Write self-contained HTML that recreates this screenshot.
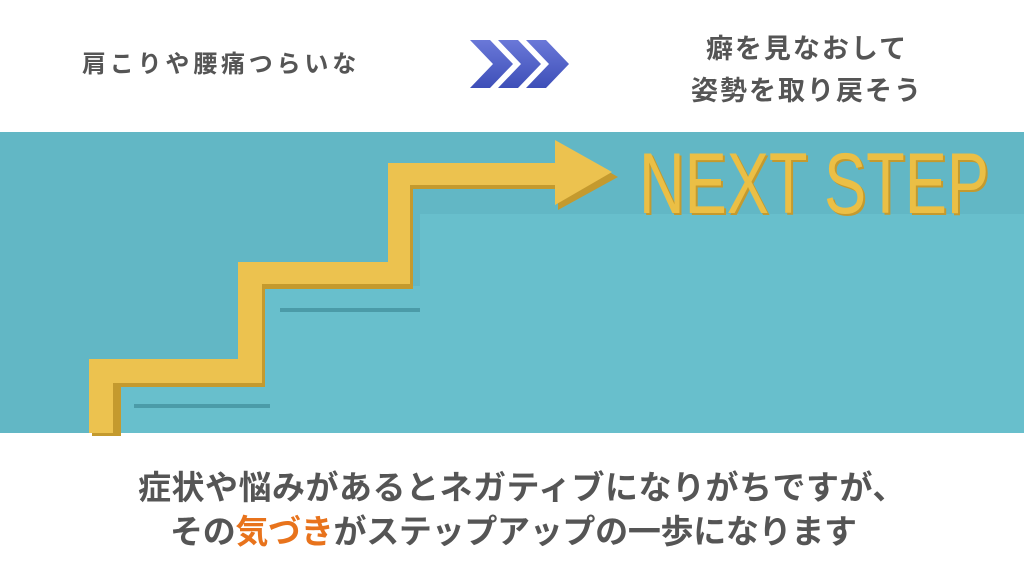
<!DOCTYPE html>
<html><head><meta charset="utf-8"><style>
body{margin:0;width:1024px;height:576px;background:#fff;position:relative;overflow:hidden;font-family:"Liberation Sans","Noto Sans CJK JP",sans-serif;color:#555;font-weight:bold}
.t{position:absolute;white-space:nowrap}
</style></head><body>
<div class="t" style="left:82px;top:44px;font-size:24px;letter-spacing:3.8px">肩こりや腰痛つらいな</div>
<div class="t" style="left:680px;top:28px;width:254px;text-align:center;font-size:27px;letter-spacing:2px;line-height:42px">癖を見なおして<br>姿勢を取り戻そう</div>
<svg style="position:absolute;left:0;top:0" width="1024" height="576">
<defs><linearGradient id="ch" x1="0" y1="0" x2="0" y2="1"><stop offset="0" stop-color="#6a78d8"/><stop offset="1" stop-color="#3e4fb8"/></linearGradient></defs>
<g fill="url(#ch)">
<polygon points="470,40 490,40 513,64 490,88 470,88 493,64"/>
<polygon points="498,40 518,40 541,64 518,88 498,88 521,64"/>
<polygon points="526,40 546,40 569,64 546,88 526,88 549,64"/>
</g>
<rect x="0" y="132" width="1024" height="301" fill="#62b7c5"/>
<polygon points="420,214 1024,214 1024,433 0,433 0,433 120,433 120,384 262,384 262,286 420,286" fill="#68bfcc"/>
<rect x="134" y="404" width="136" height="4" fill="#3f8c99" opacity="0.7"/>
<rect x="280" y="308" width="140" height="4" fill="#3f8c99" opacity="0.7"/>
<path d="M89,433 V359 H238 V262 H388 V163 H555 V140 L615,174 L555,207 V186 H410 V286 H262 V384 H118 V433 Z" fill="#c49a2e" transform="translate(3,3)"/>
<path d="M89,433 V359 H238 V262 H388 V163 H555 V140 L612,172 L555,205 V185 H410 V284 H262 V383 H113 V433 Z" fill="#ecc24f"/>
<text x="641" y="215" font-family="Liberation Sans Narrow, Liberation Sans, sans-serif" font-size="86" fill="#c49a2e" textLength="350" lengthAdjust="spacingAndGlyphs" font-weight="normal">NEXT STEP</text>
<text x="639" y="213" font-family="Liberation Sans Narrow, Liberation Sans, sans-serif" font-size="86" fill="#ebbf45" textLength="350" lengthAdjust="spacingAndGlyphs" font-weight="normal">NEXT STEP</text>
</svg>
<div class="t" style="left:138px;top:461px;font-size:33px;letter-spacing:0.5px">症状や悩みがあるとネガティブになりがちですが、</div>
<div class="t" style="left:170px;top:505px;font-size:33px;letter-spacing:-0.3px">その<span style="color:#e8731c">気づき</span>がステップアップの一歩になります</div>
</body></html>
